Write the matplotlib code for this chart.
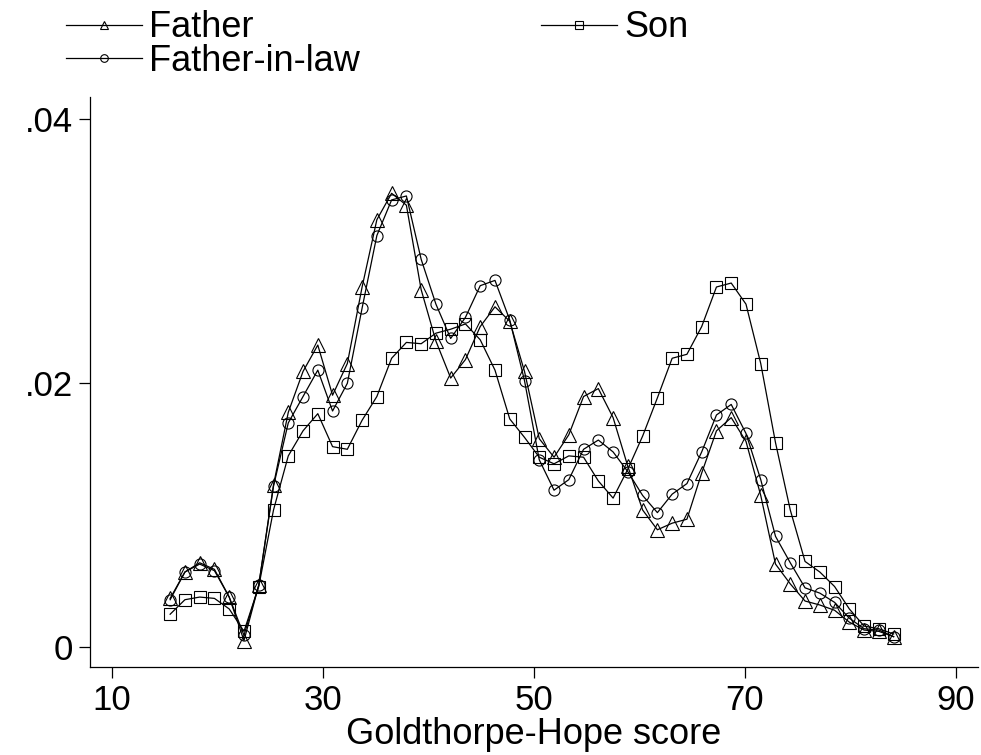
import matplotlib
matplotlib.use("Agg")
import matplotlib.pyplot as plt
from matplotlib.lines import Line2D

plt.rcParams.update({"font.family": ["Liberation Sans", "DejaVu Sans"]})

# ── kernel density points ──────────────────────────────────────────────────
score = [15.5, 16.9, 18.3, 19.7, 21.1, 22.5, 23.9, 25.3, 26.7, 28.1,
         29.5, 30.9, 32.3, 33.7, 35.1, 36.5, 37.9, 39.3, 40.7, 42.1,
         43.5, 44.9, 46.3, 47.7, 49.1, 50.5, 51.9, 53.3, 54.7, 56.1,
         57.5, 58.9, 60.3, 61.7, 63.1, 64.5, 65.9, 67.3, 68.7, 70.1,
         71.5, 72.9, 74.3, 75.7, 77.1, 78.5, 79.9, 81.3, 82.7, 84.1]
father = [.0037, .0057, .0064, .0059, .0038, .0005, .0047, .0123, .0178, .0209,
          .0229, .0191, .0215, .0273, .0324, .0344, .0335, .0271, .0232, .0204,
          .0218, .0243, .0258, .0247, .0209, .0158, .0144, .0161, .0190, .0196,
          .0174, .0137, .0104, .0089, .0094, .0097, .0132, .0164, .0174, .0156,
          .0115, .0063, .0048, .0035, .0032, .0028, .0019, .0013, .0012, .0008]
father_in_law = [.0036, .0057, .0063, .0058, .0038, .0009, .0047, .0122, .0170, .0190,
                 .0210, .0179, .0200, .0257, .0312, .0339, .0342, .0294, .0260, .0234,
                 .0250, .0274, .0278, .0248, .0202, .0142, .0119, .0127, .0150, .0157,
                 .0148, .0133, .0115, .0102, .0116, .0124, .0148, .0176, .0184, .0162,
                 .0127, .0084, .0064, .0045, .0041, .0034, .0022, .0014, .0013, .0008]
son = [.0025, .0036, .0038, .0037, .0029, .0012, .0046, .0104, .0145, .0164,
       .0177, .0152, .0150, .0172, .0190, .0219, .0231, .0230, .0238, .0241,
       .0245, .0233, .0210, .0173, .0159, .0144, .0139, .0145, .0144, .0126,
       .0113, .0135, .0160, .0189, .0219, .0222, .0243, .0273, .0276, .0260,
       .0215, .0155, .0104, .0065, .0057, .0046, .0029, .0016, .0014, .0010]

xticks = [10, 30, 50, 70, 90]
yticks = [0, .02, .04]
ylabels = ["0", ".02", ".04"]

FS = 25
W, H = 981, 755
fig = plt.figure(figsize=(W / 100, H / 100), dpi=100)
ax = fig.add_axes([90 / W, (H - 667) / H, (978 - 90) / W, (667 - 97) / H])

series = [(father, "^", 9.5, "Father"),
          (father_in_law, "o", 8, "Father-in-law"),
          (son, "s", 8.5, "Son")]
for ys, mk, ms, lab in series:
    ax.plot(score, ys, color="black", lw=0.9, marker=mk, ms=ms,
            mfc="none", mec="black", mew=0.8)

ax.set_xlim(7.9, 92.1)
ax.set_ylim(-0.0015, 0.0417)
ax.set_xticks(xticks)
ax.set_xticklabels([str(t) for t in xticks])
ax.set_yticks(yticks)
ax.set_yticklabels(ylabels)
for s in ["top", "right"]:
    ax.spines[s].set_visible(False)
for s in ["left", "bottom"]:
    ax.spines[s].set_linewidth(0.9)
ax.tick_params(direction="out", length=8, width=0.9, labelsize=FS, pad=4)
ax.set_xlabel("Goldthorpe-Hope score", fontsize=FS + 1, labelpad=0)

# legend above the plot, Stata style (2 columns)
handles = [Line2D([0], [0], color="black", lw=0.9, marker=mk, ms=5.5, mfc="none",
                  mec="black", mew=0.8, label=lab) for _, mk, _, lab in series]
fig.legend(handles=handles, loc="upper left", bbox_to_anchor=(52 / W, 1.0 + 4 / H),
           ncol=2, frameon=False, fontsize=FS + 1, handlelength=2.1, handletextpad=0.2,
           columnspacing=5.0, labelspacing=-0.05, borderaxespad=0.0)

fig.savefig("out.png", dpi=100, facecolor="white")
